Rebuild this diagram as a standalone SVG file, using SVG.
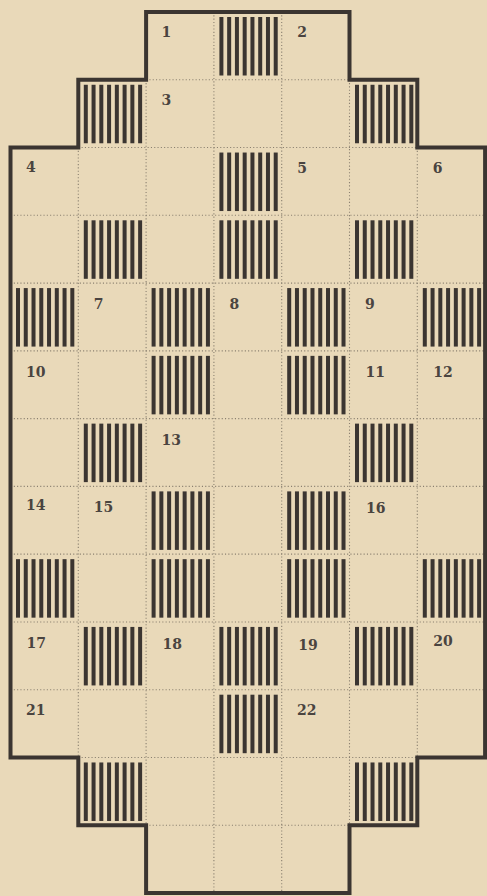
<svg xmlns="http://www.w3.org/2000/svg" xmlns:xlink="http://www.w3.org/1999/xlink" width="487" height="896" viewBox="0 0 487 896">
<style>
.bg{fill:#e9d9b9}
.dot{fill:none;stroke:#8a8070;stroke-width:1.1;stroke-dasharray:1.1 2.2}
.wall{fill:none;stroke:#3b3531;stroke-width:4;stroke-linejoin:miter;stroke-linecap:square}
.bar{fill:#3b3531}
.num{font-family:"DejaVu Serif","Liberation Serif",serif;font-weight:bold;font-size:14px;fill:#4a4440}
</style>
<defs>
<g id="hatch">
<rect class="bar" x="5.5" y="5" width="4" height="58.5"/>
<rect class="bar" x="13.26" y="5" width="4" height="58.5"/>
<rect class="bar" x="21.02" y="5" width="4" height="58.5"/>
<rect class="bar" x="28.78" y="5" width="4" height="58.5"/>
<rect class="bar" x="36.54" y="5" width="4" height="58.5"/>
<rect class="bar" x="44.3" y="5" width="4" height="58.5"/>
<rect class="bar" x="52.06" y="5" width="4" height="58.5"/>
<rect class="bar" x="59.82" y="5" width="4" height="58.5"/>
</g>
</defs>
<rect class="bg" x="0" y="0" width="487" height="896"/>
<g id="grid">
<path class="dot" d="M146.1,79.77H349.5 M78.3,147.54H417.3 M10.5,215.31H485.1 M10.5,283.08H485.1 M10.5,350.85H485.1 M10.5,418.62H485.1 M10.5,486.39H485.1 M10.5,554.16H485.1 M10.5,621.93H485.1 M10.5,689.7H485.1 M78.3,757.47H417.3 M146.1,825.24H349.5"/>
<path class="dot" d="M78.3,147.54V757.47 M146.1,79.77V825.24 M213.9,12V893 M281.7,12V893 M349.5,79.77V825.24 M417.3,147.54V757.47"/>
</g>
<g id="blocks">
<use xlink:href="#hatch" x="213.9" y="12"/>
<use xlink:href="#hatch" x="78.3" y="79.77"/>
<use xlink:href="#hatch" x="349.5" y="79.77"/>
<use xlink:href="#hatch" x="213.9" y="147.54"/>
<use xlink:href="#hatch" x="78.3" y="215.31"/>
<use xlink:href="#hatch" x="213.9" y="215.31"/>
<use xlink:href="#hatch" x="349.5" y="215.31"/>
<use xlink:href="#hatch" x="10.5" y="283.08"/>
<use xlink:href="#hatch" x="146.1" y="283.08"/>
<use xlink:href="#hatch" x="281.7" y="283.08"/>
<use xlink:href="#hatch" x="417.3" y="283.08"/>
<use xlink:href="#hatch" x="146.1" y="350.85"/>
<use xlink:href="#hatch" x="281.7" y="350.85"/>
<use xlink:href="#hatch" x="78.3" y="418.62"/>
<use xlink:href="#hatch" x="349.5" y="418.62"/>
<use xlink:href="#hatch" x="146.1" y="486.39"/>
<use xlink:href="#hatch" x="281.7" y="486.39"/>
<use xlink:href="#hatch" x="10.5" y="554.16"/>
<use xlink:href="#hatch" x="146.1" y="554.16"/>
<use xlink:href="#hatch" x="281.7" y="554.16"/>
<use xlink:href="#hatch" x="417.3" y="554.16"/>
<use xlink:href="#hatch" x="78.3" y="621.93"/>
<use xlink:href="#hatch" x="213.9" y="621.93"/>
<use xlink:href="#hatch" x="349.5" y="621.93"/>
<use xlink:href="#hatch" x="213.9" y="689.7"/>
<use xlink:href="#hatch" x="78.3" y="757.47"/>
<use xlink:href="#hatch" x="349.5" y="757.47"/>
</g>
<g id="frame">
<path class="wall" d="M146.1,12H349.5V79.77H417.3V147.54H485.1V757.47H417.3V825.24H349.5V893H146.1V825.24H78.3V757.47H10.5V147.54H78.3V79.77H146.1Z"/>
</g>
<g id="labels">
<g id="cell-1"><text class="num" x="161.6" y="37.3">1</text></g>
<g id="cell-2"><text class="num" x="297.2" y="37.3">2</text></g>
<g id="cell-3"><text class="num" x="161.6" y="105.3">3</text></g>
<g id="cell-4"><text class="num" x="26" y="171.5">4</text></g>
<g id="cell-5"><text class="num" x="297.2" y="173">5</text></g>
<g id="cell-6"><text class="num" x="432.8" y="173">6</text></g>
<g id="cell-7"><text class="num" x="93.8" y="308.8">7</text></g>
<g id="cell-8"><text class="num" x="229.4" y="308.8">8</text></g>
<g id="cell-9"><text class="num" x="365" y="308.8">9</text></g>
<g id="cell-10"><text class="num" x="26" y="376.6">10</text></g>
<g id="cell-11"><text class="num" x="365.5" y="376.6">11</text></g>
<g id="cell-12"><text class="num" x="433.3" y="376.6">12</text></g>
<g id="cell-13"><text class="num" x="161.6" y="444.6">13</text></g>
<g id="cell-14"><text class="num" x="26" y="510.3">14</text></g>
<g id="cell-15"><text class="num" x="93.8" y="512">15</text></g>
<g id="cell-16"><text class="num" x="366" y="513">16</text></g>
<g id="cell-17"><text class="num" x="26.5" y="648">17</text></g>
<g id="cell-18"><text class="num" x="162.5" y="649">18</text></g>
<g id="cell-19"><text class="num" x="298.2" y="649.5">19</text></g>
<g id="cell-20"><text class="num" x="433.3" y="645.8">20</text></g>
<g id="cell-21"><text class="num" x="26" y="714.5">21</text></g>
<g id="cell-22"><text class="num" x="297" y="714.5">22</text></g>
</g>
</svg>
